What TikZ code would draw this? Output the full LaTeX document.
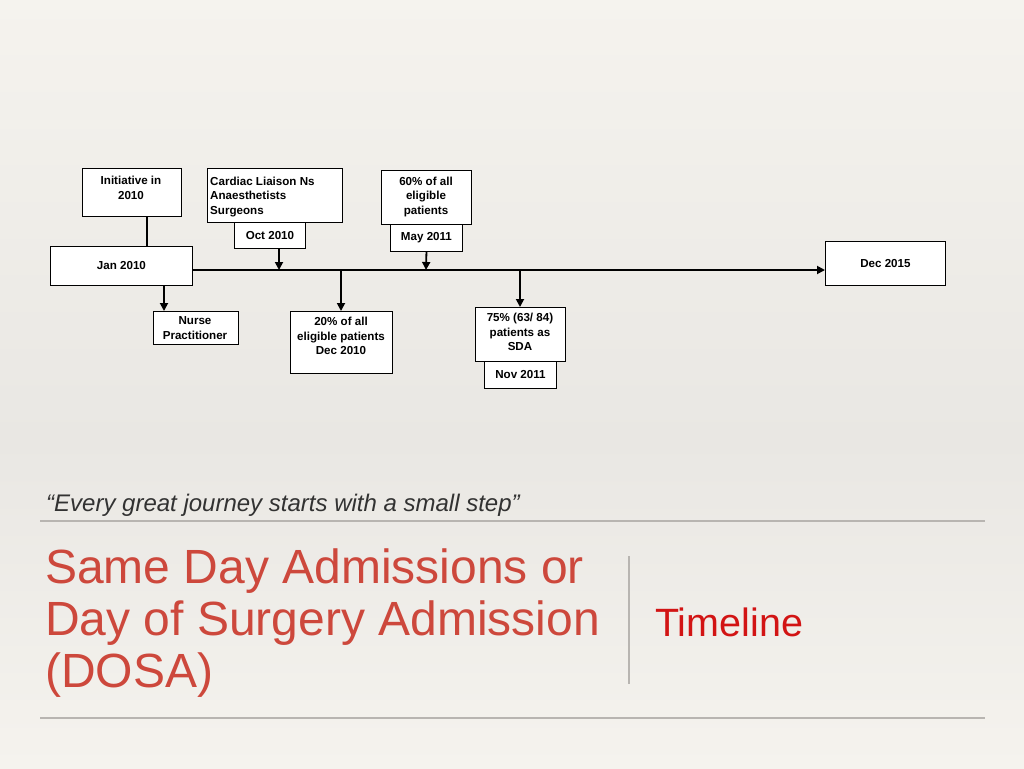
\documentclass[tikz,border=0pt]{standalone}
\usepackage{fontspec}
\setmainfont{Liberation Sans}
\usetikzlibrary{arrows.meta}
\definecolor{bgtop}{RGB}{245,243,238}
\definecolor{bgmid}{RGB}{233,231,227}
\definecolor{rule}{RGB}{184,181,177}
\definecolor{titlered}{RGB}{205,72,60}
\definecolor{tlred}{RGB}{210,20,20}
\definecolor{quote}{RGB}{50,50,50}
\tikzset{
  box/.style={draw=black, line width=0.9pt, fill=white, inner sep=0pt, font=\bfseries\fontsize{11.6}{14.5}\selectfont},
  btext/.style={inner sep=0pt, font=\bfseries\fontsize{11.6}{14.5}\selectfont},
  conn/.style={draw=black, line width=1.8pt},
  arr/.style={conn, -{Triangle[width=8pt,length=8pt]}},
  sep/.style={draw=rule, line width=2pt},
}
\begin{document}
\begin{tikzpicture}[x=1pt,y=-1pt]
\useasboundingbox (0,0) rectangle (1024,768);
\shade[top color=bgtop, bottom color=bgmid] (0,0) rectangle (1024,440);
\shade[top color=bgmid, bottom color=bgtop] (0,440) rectangle (1024,768);

% boxes
\node[box, minimum width=99pt, minimum height=48pt, anchor=north west] (init) at (82,168) {};
\node[btext, align=center, anchor=north] (initt) at (131,176) {Initiative in\\2010};
\node[box, minimum width=142pt, minimum height=39pt, anchor=north west] (jan) at (50,246) {Jan 2010};
\node[box, minimum width=135pt, minimum height=54pt, anchor=north west] (card) at (207,168) {};
\node[btext, align=left, anchor=north west] (cardt) at (210,176.5) {Cardiac Liaison Ns\\Anaesthetists\\Surgeons};
\node[box, minimum width=71pt, minimum height=26pt, anchor=north west] (oct) at (234,222) {Oct 2010};
\node[box, minimum width=90pt, minimum height=54pt, anchor=north west] (sixty) at (381,170) {};
\node[btext, align=center, anchor=north] (sixtyt) at (426,176.5) {60\% of all\\eligible\\patients};
\node[box, minimum width=72pt, minimum height=27pt, anchor=north west] (may) at (390,224) {May 2011};
\node[box, minimum width=120pt, minimum height=44pt, anchor=north west] (dec15) at (825,241) {Dec 2015};
\node[box, minimum width=85pt, minimum height=33pt, anchor=north west] (nurse) at (153,311) {};
\node[btext, align=center, anchor=north] (nurset) at (195,316.5) {Nurse\\Practitioner};
\node[box, minimum width=102pt, minimum height=62pt, anchor=north west] (twenty) at (290,311) {};
\node[btext, align=center, anchor=north] (twentyt) at (341,317) {20\% of all\\eligible patients\\Dec 2010};
\node[box, minimum width=90pt, minimum height=54pt, anchor=north west] (sfive) at (475,307) {};
\node[btext, align=center, anchor=north] (sfivet) at (520,313) {75\% (63/ 84)\\patients as\\SDA};
\node[box, minimum width=72pt, minimum height=27pt, anchor=north west] (nov) at (484,361) {Nov 2011};

% connectors
\coordinate (a1) at (279,270);
\coordinate (a2) at (426,270);
\coordinate (b1) at (341,270);
\coordinate (b2) at (520,270);
\draw[conn] (init.south -| 147,0) -- (jan.north -| 147,0);
\draw[arr] (jan.east |- 0,270) -- (dec15.west |- 0,270);
\draw[arr] (oct.south -| a1) -- (a1);
\draw[arr] (may.south) -- (a2);
\draw[arr] (jan.south -| 164,0) -- (nurse.north -| 164,0);
\draw[arr] (b1) -- (twenty.north -| b1);
\draw[arr] (b2) -- (sfive.north -| b2);

% bottom
\node[anchor=base west, font=\itshape\fontsize{24}{28}\selectfont, text=quote, inner sep=0pt] (q) at (46,511) {“Every great journey starts with a small step”};
\coordinate (r1l) at (40,521); \coordinate (r1r) at (985,521);
\draw[sep] (r1l) -- (r1r);
\node[anchor=north west, align=left, font=\fontsize{48}{52}\selectfont, text=titlered, inner sep=0pt] (title) at (45,549) {Same Day Admissions or\\Day of Surgery Admission\\(DOSA)};
\coordinate (d1) at (629,556); \coordinate (d2) at (629,684);
\draw[draw=rule, line width=1.5pt] (d1) -- (d2);
\node[anchor=base west, font=\fontsize{39.5}{44}\selectfont, text=tlred, inner sep=0pt] (tl) at (655,636) {Timeline};
\coordinate (r2l) at (40,718); \coordinate (r2r) at (985,718);
\draw[sep] (r2l) -- (r2r);
\end{tikzpicture}
\end{document}
